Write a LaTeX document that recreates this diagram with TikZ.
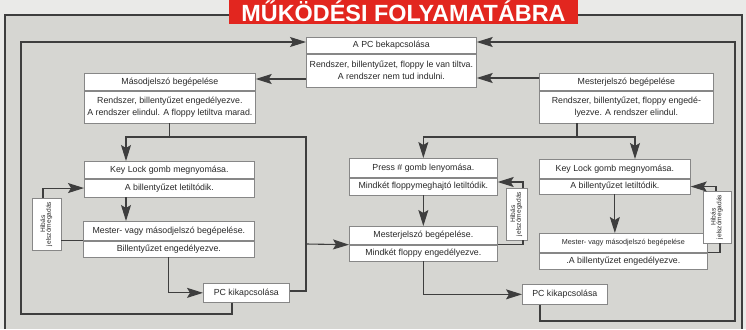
\documentclass[tikz,border=0pt]{standalone}
\usepackage{fontspec}
\setmainfont{Liberation Sans}
\usetikzlibrary{arrows.meta}
\definecolor{bgin}{RGB}{214,214,210}
\definecolor{bgout}{RGB}{234,234,232}
\definecolor{ln}{RGB}{62,62,62}
\definecolor{bord}{RGB}{135,135,135}
\definecolor{banner}{RGB}{226,38,31}
\definecolor{txt}{RGB}{40,40,40}
\newcommand{\twobox}[8]{%
  \node[hd, minimum width=#4pt, minimum height=#5pt, anchor=north west] (#1) at (#2,#3) {#7};
  \node[bd, minimum width=#4pt, minimum height=#6pt, anchor=north] (#1b) at (#1.south) {#8};
}
\newcommand{\hibtext}{\rotatebox{90}{\fontsize{6.6}{7.6}\selectfont\begin{tabular}{@{}c@{}}Hibás\\[-2pt]jelszómegadás\end{tabular}}}
\begin{document}
\begin{tikzpicture}[x=1pt,y=-1pt,
  hd/.style={draw=bord, fill=white, line width=0.7pt, inner sep=0pt, text=txt, font=\fontsize{8.8}{11.5}\selectfont},
  bd/.style={hd, align=center},
  sb/.style={hd},
  hib/.style={draw=bord, fill=white, line width=0.7pt, inner sep=0pt, text=txt},
  cn/.style={draw=ln, line width=1.1pt},
  arr/.style={cn, -{Stealth[length=16pt,width=10pt,inset=3pt]}},
  frame/.style={draw=ln, line width=1.6pt}
]
\useasboundingbox (0,0) rectangle (746,329);
\fill[bgout] (0,0) rectangle (746,329);
\fill[bgin] (5,15) rectangle (742,329);
\draw[frame] (5,329) -- (5,15) -- (229,15);
\draw[frame] (578,15) -- (742,15) -- (742,329);
\fill[banner] (229,0) rectangle (578,24);
\node[anchor=base, text=white, inner sep=0pt, font=\bfseries\fontsize{23.4}{24}\selectfont] (title) at (403.5,21.8) {MŰKÖDÉSI FOLYAMATÁBRA};

% boxes
\twobox{pcon}{306}{37}{170}{16}{33}{A PC bekapcsolása}{Rendszer, billentyűzet, floppy le van tiltva.\\A rendszer nem tud indulni.}
\twobox{masod}{84}{73}{171}{17}{32}{Másodjelszó begépelése}{Rendszer, billentyűzet engedélyezve.\\A rendszer elindul. A floppy letiltva marad.}
\twobox{mester}{539}{73}{174}{17}{32}{Mesterjelszó begépelése}{Rendszer, billentyűzet, floppy engedé-\\lyezve. A rendszer elindul.}
\twobox{keyL}{84}{161}{170}{17}{18}{Key Lock gomb megnyomása.}{A billentyűzet letiltódik.}
\twobox{mvL}{83}{221}{171}{19}{16}{Mester- vagy másodjelszó begépelése.}{Billentyűzet engedélyezve.}
\node[sb, minimum width=86pt, minimum height=19pt, anchor=north west] (pcoffL) at (203,283) {PC kikapcsolása};
\twobox{press}{349}{158}{148}{19}{17}{Press \# gomb lenyomása.}{Mindkét floppymeghajtó letiltódik.}
\twobox{mesterM}{349}{226}{148}{18}{16}{Mesterjelszó begépelése.}{Mindkét floppy engedélyezve.}
\twobox{keyR}{539}{159}{151}{19}{15}{Key Lock gomb megnyomása.}{A billentyűzet letiltódik.}
\twobox{mvR}{539}{233}{168}{19}{16}{\fontsize{7.2}{9}\selectfont Mester- vagy másodjelszó begépelése}{.A billentyűzet engedélyezve.}
\node[sb, minimum width=85pt, minimum height=20pt, anchor=north west] (pcoffR) at (522,284) {PC kikapcsolása};
\node[hib, minimum width=29pt, minimum height=52pt] (hibL) at (46.5,224) {\hibtext};
\node[hib, minimum width=21pt, minimum height=52pt] (hibM) at (516.5,214) {\hibtext};
\node[hib, minimum width=28pt, minimum height=52pt] (hibR) at (717,217) {\hibtext};

% outer loops
\draw[arr] (pcoffL.south -| 232,0) -- (232,314) -- (21,314) -- (21,42) -- (pcon.west |- 0,42);
\draw[arr] (pcoffR.south -| 540,0) -- (540,321) -- (735,321) -- (735,42) -- (pcon.east |- 0,42);
\draw[arr] (pconb.west |- 0,79) -- (masod.east |- 0,79);
\draw[arr] (mester.west |- 0,78) -- (pconb.east |- 0,78);

% left column
\draw[cn] (masodb.south) |- (306,137) -- (306,291) -- (pcoffL.east |- 0,291);
\draw[arr] (masodb.south |- 0,137) -| (keyL.north -| 126,0);
\draw[arr] (306,244) -- (mesterM.south west);
\draw[arr] (keyLb.south -| 126,0) -- (mvL.north -| 126,0);
\draw[cn] (mvL.south west) -- (hibL.east |- mvL.south west);
\draw[arr] (hibL.north -| 43,0) |- (keyLb.west);
\draw[arr] (mvLb.south) |- (pcoffL.west);

% right part
\coordinate (j1) at (577,137);
\draw[cn] (mesterb.south -| j1) -- (j1);
\draw[arr] (j1) -| (press.north);
\draw[arr] (j1) -| (keyR.north -| 635,0);
\draw[arr] (pressb.south) -- (mesterM.north);
\draw[arr] (hibM.north -| 523,0) |- (pressb.east |- 0,182);
\draw[cn] (mesterM.south east) -| (hibM.south -| 523,0);
\draw[arr] (mesterMb.south) |- (pcoffR.west);
\draw[arr] (keyRb.south) -- (mvR.north -| keyRb.south);
\draw[arr] (hibR.north -| 716,0) |- (keyRb.east);
\draw[cn] (mvR.south east) -| (hibR.south -| 720,0);
\end{tikzpicture}
\end{document}
